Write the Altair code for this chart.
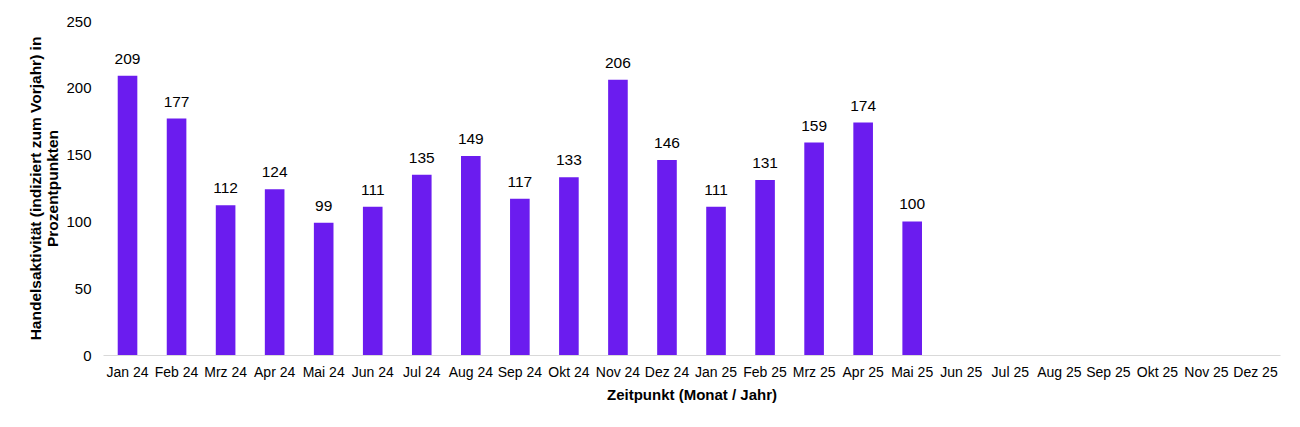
import altair as alt
import pandas as pd

months = ["Jan 24", "Feb 24", "Mrz 24", "Apr 24", "Mai 24", "Jun 24", "Jul 24", "Aug 24",
          "Sep 24", "Okt 24", "Nov 24", "Dez 24", "Jan 25", "Feb 25", "Mrz 25", "Apr 25",
          "Mai 25", "Jun 25", "Jul 25", "Aug 25", "Sep 25", "Okt 25", "Nov 25", "Dez 25"]
values = [209, 177, 112, 124, 99, 111, 135, 149, 117, 133, 206, 146, 111, 131, 159, 174, 100,
          None, None, None, None, None, None, None]

df = pd.DataFrame({"Monat": months, "Wert": values})

FONT = "Liberation Sans"
COLOR = "#6B1CEF"

x = alt.X("Monat:N", sort=months, scale=alt.Scale(paddingInner=0.6, paddingOuter=0.3),
          axis=alt.Axis(title="Zeitpunkt (Monat / Jahr)", labelAngle=0, labelFontSize=14,
                        labelColor="#000000", labelFont=FONT, titleFont=FONT,
                        titleFontSize=15, titleFontWeight="bold", titleColor="#000000",
                        titlePadding=8, ticks=False, domainColor="#D9D9D9", labelPadding=10))
y = alt.Y("Wert:Q", scale=alt.Scale(domain=[0, 250]),
          axis=alt.Axis(title=["Handelsaktivität (indiziert zum Vorjahr) in", "Prozentpunkten"],
                        values=[0, 50, 100, 150, 200, 250], grid=False, domain=False, ticks=False,
                        labelFontSize=15, labelColor="#000000", labelFont=FONT, labelPadding=12,
                        titleFont=FONT, titleFontSize=15.5, titleFontWeight="bold",
                        titleColor="#000000", titlePadding=5))

base = alt.Chart(df).encode(x=x, y=y)
bars = base.mark_bar(color=COLOR)
text = base.mark_text(dy=-17, fontSize=15.5, font=FONT, color="#000000").encode(
    text=alt.Text("Wert:Q", format="d"))

chart = (bars + text).properties(
    width=1177, height=334,
    background="#FFFFFF",
    autosize=alt.AutoSizeParams(type="none"),
    padding={"left": 95, "top": 13, "right": 10, "bottom": 60},
).configure_view(strokeWidth=0, stroke="transparent")

chart.save("out.html", embed_options={"renderer": "svg", "actions": False})
